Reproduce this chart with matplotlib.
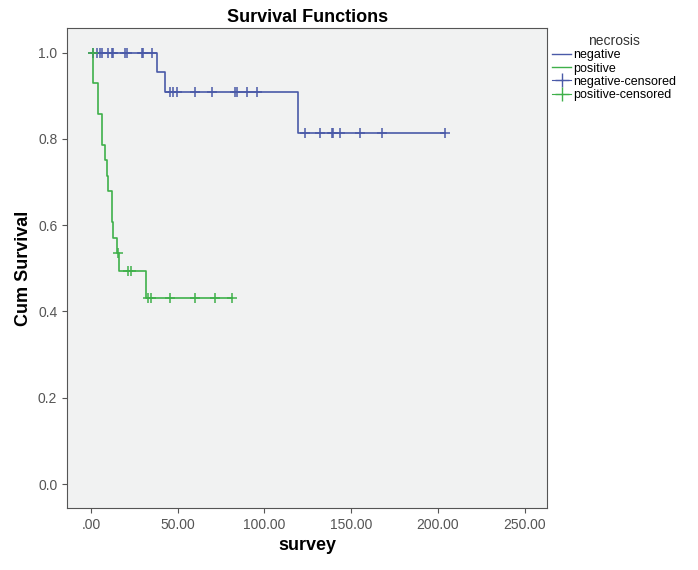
import matplotlib.pyplot as plt
from matplotlib.lines import Line2D

plt.rcParams['font.family'] = 'Liberation Sans'

# Kaplan-Meier step data
neg_times = [0, 38.3, 42.7, 119.6, 204.3]
neg_surv = [1.0, 0.955, 0.909, 0.813, 0.813]
neg_cens_t = [1.2, 3.5, 5.2, 6.3, 9.8, 12.0, 12.7, 19.6, 20.8, 29.4, 30.0, 35.2,
              45.6, 47.5, 49.4, 60.0, 69.6, 83.0, 84.0, 89.8, 95.6,
              123.5, 132.0, 138.9, 139.8, 143.7, 155.2, 167.7, 204.3]
neg_cens_s = [1.0] * 12 + [0.909] * 9 + [0.813] * 8

pos_times = [0, 1.3, 4.2, 6.2, 8.1, 9.0, 10.0, 11.9, 12.9, 14.8, 16.3, 31.7, 81.2]
pos_surv = [1.0, 0.929, 0.857, 0.786, 0.75, 0.714, 0.679, 0.607, 0.571, 0.536, 0.494, 0.432, 0.432]
pos_cens_t = [1.3, 15.8, 21.5, 22.9, 33.1, 34.4, 45.6, 60.0, 71.6, 81.2]
pos_cens_s = [1.0, 0.536, 0.494, 0.494] + [0.432] * 6

blue = '#4a5aa8'
green = '#3fb04a'

fig = plt.figure(figsize=(6.98, 5.70), dpi=100)
ax = fig.add_axes([0.096, 0.109, 0.688, 0.842])
ax.set_facecolor('#f1f2f2')

ax.step(neg_times, neg_surv, where='post', color=blue, lw=1.2)
ax.step(pos_times, pos_surv, where='post', color=green, lw=1.2)
ax.plot(neg_cens_t, neg_cens_s, '+', color=blue, ms=7, mew=1.1)
ax.plot(pos_cens_t, pos_cens_s, '+', color=green, ms=7, mew=1.1)

ax.set_xlim(-13.8, 263)
ax.set_ylim(-0.055, 1.057)
xticks = [0, 50, 100, 150, 200, 250]
ax.set_xticks(xticks)
ax.set_xticklabels(['.00', '50.00', '100.00', '150.00', '200.00', '250.00'])
ax.set_yticks([0, 0.2, 0.4, 0.6, 0.8, 1.0])
ax.set_yticklabels(['0.0', '0.2', '0.4', '0.6', '0.8', '1.0'])
ax.tick_params(colors='#555555', labelsize=10)
for s in ax.spines.values():
    s.set_color('#555555')

ax.set_xlabel('survey', fontsize=13, fontweight='bold')
ax.set_ylabel('Cum Survival', fontsize=13, fontweight='bold')
ax.set_title('Survival Functions', fontsize=13, fontweight='bold', pad=4)

handles = [Line2D([], [], color=blue, lw=1),
           Line2D([], [], color=green, lw=1),
           Line2D([], [], color=blue, marker='+', ms=10, lw=0.8),
           Line2D([], [], color=green, marker='+', ms=10, lw=0.8)]
labels = ['negative', 'positive', 'negative-censored', 'positive-censored']
leg = fig.legend(handles, labels, title='necrosis', loc='upper left',
                 bbox_to_anchor=(0.775, 0.96), frameon=False, fontsize=9,
                 title_fontsize=10, handlelength=1.5, handletextpad=0.2,
                 labelspacing=0.1)
leg.get_title().set_color('#333333')

fig.savefig('out.png')
